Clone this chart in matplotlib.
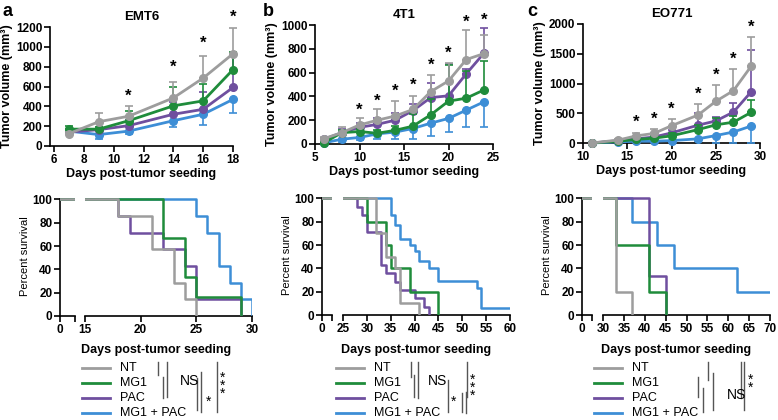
import numpy as np
import matplotlib
matplotlib.use('Agg')
import matplotlib.pyplot as plt

plt.rcParams['font.family'] = ['Liberation Sans', 'DejaVu Sans']
plt.rcParams['axes.linewidth'] = 1.2

W, H = 778, 420

groups = ['NT', 'MG1', 'PAC', 'MG1 + PAC']
colors = ['#9d9d9d', '#1f8c3b', '#6f4f9f', '#3d8ed6']

# ---- tumor growth data (mean, error) ----
emt6_days = [7, 9, 11, 14, 16, 18]
emt6_nt = [125, 245, 300, 485, 685, 930]
emt6_nt_err = [20, 85, 100, 160, 225, 260]
emt6_mg1 = [170, 170, 255, 405, 455, 770]
emt6_mg1_err = [30, 20, 100, 185, 170, 180]
emt6_pac = [140, 165, 205, 320, 370, 590]
emt6_pac_err = [20, 30, 60, 120, 175, 330]
emt6_combo = [150, 115, 150, 255, 320, 470]
emt6_combo_err = [20, 45, 25, 60, 110, 135]
emt6_stars = [11, 14, 16, 18]
emt6_star_y = [500, 790, 1040, 1300]

t41_days = [6, 8, 10, 12, 14, 16, 18, 20, 22, 24]
t41_nt = [45, 95, 160, 200, 235, 290, 440, 530, 710, 760]
t41_nt_err = [10, 45, 55, 90, 125, 110, 140, 150, 250, 160]
t41_mg1 = [10, 95, 105, 90, 115, 150, 245, 360, 385, 455]
t41_mg1_err = [5, 20, 20, 30, 40, 100, 130, 305, 230, 245]
t41_pac = [40, 95, 140, 165, 200, 280, 390, 405, 590, 765]
t41_pac_err = [10, 30, 40, 50, 60, 60, 120, 270, 40, 210]
t41_combo = [10, 40, 55, 85, 100, 130, 175, 215, 285, 355]
t41_combo_err = [5, 20, 20, 45, 55, 90, 105, 115, 145, 210]
t41_stars = [10, 12, 14, 16, 18, 20, 22, 24]
t41_star_y = [280, 360, 440, 490, 660, 760, 1020, 1040]

eo_days = [11, 14, 16, 18, 20, 23, 25, 27, 29]
eo_nt = [0, 50, 120, 160, 290, 470, 700, 880, 1290]
eo_nt_err = [0, 20, 40, 80, 110, 190, 270, 370, 490]
eo_mg1 = [0, 30, 60, 80, 120, 225, 305, 350, 515]
eo_mg1_err = [0, 10, 20, 30, 50, 80, 120, 100, 200]
eo_pac = [0, 40, 70, 100, 170, 300, 370, 520, 860]
eo_pac_err = [0, 10, 20, 30, 50, 200, 60, 150, 700]
eo_combo = [0, 20, 30, 30, 40, 70, 125, 185, 285]
eo_combo_err = [0, 10, 15, 15, 25, 40, 120, 180, 285]
eo_stars = [16, 18, 20, 23, 25, 27, 29]
eo_star_y = [350, 400, 560, 820, 1130, 1400, 1950]

# ---- survival data (event times, percent surviving) ----
emt6_surv = [
    ([0, 18, 21, 23, 24, 25], [100, 85.7, 57.1, 28.6, 14.3, 0]),
    ([0, 22, 24, 25, 29], [100, 66.7, 33.3, 16.7, 0]),
    ([0, 18, 19, 22, 24, 25, 29], [100, 85.7, 71.4, 57.1, 42.9, 14.3, 0]),
    ([0, 25, 26, 27, 28, 29, 30], [100, 85.7, 71.4, 42.9, 28.6, 14.3, 0]),
]
t41_surv = [
    ([0, 32, 34, 36, 37, 41], [100, 70, 50, 40, 10, 0]),
    ([0, 30, 34, 35, 39, 45], [100, 80, 60, 40, 20, 0]),
    ([0, 28, 29, 30, 33, 34, 36, 37, 40, 42, 43],
     [100, 92.9, 85.7, 71.4, 42.9, 35.7, 28.6, 21.4, 14.3, 7.1, 0]),
    ([0, 35, 36, 37, 39, 40, 41, 43, 45, 53, 54, 60],
     [100, 86, 77, 65, 60, 55, 46, 40, 29, 23, 5.6, 5.6]),
]
eo_surv = [
    ([0, 33, 37], [100, 20, 0]),
    ([0, 33, 41, 45], [100, 60, 20, 0]),
    ([0, 41, 45], [100, 33.3, 0]),
    ([0, 37, 43, 47, 62, 70], [100, 80, 60, 40, 20, 20]),
]

fig = plt.figure(figsize=(W / 100, H / 100), dpi=100)


def px_axes(x0, x1, ytop, ybot):
    return fig.add_axes([x0 / W, (H - ybot) / H, (x1 - x0) / W, (ybot - ytop) / H])


def style(ax, fs=8.5):
    for s in ['top', 'right']:
        ax.spines[s].set_visible(False)
    ax.tick_params(direction='out', length=4, width=1.2, labelsize=fs, pad=1.5)
    for lab in ax.get_xticklabels() + ax.get_yticklabels():
        lab.set_fontweight('bold')


def growth_panel(box, days, series, errs, xlim, xticks, yticks, title, stars, star_y):
    ax = px_axes(*box)
    for i in [3, 2, 1, 0]:
        e = np.array(errs[i])
        z = np.zeros_like(e)
        yerr = [e, z] if i == 3 else [z, e]
        ax.errorbar(days, series[i], yerr=yerr, color=colors[i], lw=2, marker='o',
                    ms=5.5, capsize=3, elinewidth=1.2, capthick=1.2, clip_on=False,
                    zorder=3 + (3 - i))
    for sx, sy in zip(stars, star_y):
        ax.text(sx, sy, '*', ha='center', va='center', fontsize=12, fontweight='bold',
                clip_on=False)
    ax.set_xlim(*xlim)
    ax.set_ylim(yticks[0], yticks[-1])
    ax.set_xticks(xticks)
    ax.set_yticks(yticks)
    ax.set_xlabel('Days post-tumor seeding', fontsize=9, fontweight='bold', labelpad=2)
    ax.set_ylabel('Tumor volume (mm³)', fontsize=9, fontweight='bold', labelpad=2)
    ax.set_title(title, fontsize=9.5, fontweight='bold', pad=5)
    style(ax)
    return ax


def survival_panel(spine, small_end, main_start, main_end, ytop, ybot, surv, xlim, xticks):
    ax0 = px_axes(spine, small_end, ytop - 3, ybot)
    ax1 = px_axes(main_start, main_end, ytop - 3, ybot)
    for ax in (ax0, ax1):
        for i, (t, s) in enumerate(surv):
            ax.step(t, s, where='post', color=colors[i], lw=1.8, zorder=6 - i)
        ax.set_ylim(0, 103)
        ax.spines['left'].set_bounds(0, 100)
    ax0.set_xlim(0, 1)
    ax0.set_xticks([0, 1])
    ax0.set_xticklabels(['0', ''])
    ax0.set_yticks([0, 20, 40, 60, 80, 100])
    ax0.set_ylabel('Percent survival', fontsize=8, labelpad=2)
    ax1.set_xlim(*xlim)
    ax1.set_xticks(xticks)
    ax1.spines['left'].set_visible(False)
    ax1.set_yticks([])
    style(ax0, 8.5)
    style(ax1, 8.5)


growth_panel((50, 233, 27, 146), emt6_days, [emt6_nt, emt6_mg1, emt6_pac, emt6_combo],
             [emt6_nt_err, emt6_mg1_err, emt6_pac_err, emt6_combo_err],
             (5.73, 18), range(6, 19, 2), range(0, 1201, 200), 'EMT6', emt6_stars, emt6_star_y)
growth_panel((315, 493, 25, 144), t41_days, [t41_nt, t41_mg1, t41_pac, t41_combo],
             [t41_nt_err, t41_mg1_err, t41_pac_err, t41_combo_err],
             (5, 25), range(5, 26, 5), range(0, 1001, 200), '4T1', t41_stars, t41_star_y)
growth_panel((583, 760, 24, 143), eo_days, [eo_nt, eo_mg1, eo_pac, eo_combo],
             [eo_nt_err, eo_mg1_err, eo_pac_err, eo_combo_err],
             (10, 30), range(10, 31, 5), range(0, 2001, 500), 'EO771', eo_stars, eo_star_y)

survival_panel(60, 75, 85, 252, 199, 316, emt6_surv, (15, 30), range(15, 31, 5))
survival_panel(322, 332, 343, 510, 198, 315, t41_surv, (25, 60), range(25, 61, 5))
survival_panel(582, 592, 603, 770, 198, 315, eo_surv, (30, 70), range(30, 71, 5))

# ---- overlay for letters, legends and significance brackets ----
ov = fig.add_axes([0, 0, 1, 1], zorder=-1)
ov.set_xlim(0, W)
ov.set_ylim(H, 0)
ov.axis('off')

for lx, letter in [(8, 'a'), (268, 'b'), (532, 'c')]:
    ov.text(lx, 11, letter, fontsize=13, fontweight='bold', ha='center', va='center')

for cx in [156, 416, 676]:
    ov.text(cx, 350, 'Days post-tumor seeding', fontsize=9, fontweight='bold',
            ha='center', va='center')

legend_x = [82, 336, 594]
row_y = [368, 383, 398, 413]
for lx in legend_x:
    for i in range(4):
        ov.plot([lx, lx + 28], [row_y[i], row_y[i]], color=colors[i], lw=2)
        ov.text(lx + 38, row_y[i], groups[i], fontsize=9, ha='left', va='center')

bracket_color = '#555555'
brackets = [
    # panel a
    (158, 362, 375), (163, 377, 398), (167, 362, 397),
    (197, 378, 410), (201, 372, 412), (217, 362, 412),
    # panel b
    (411, 362, 377), (414, 375, 397), (418, 362, 398),
    (448, 380, 412), (462, 393, 412), (466, 392, 413), (467, 362, 397),
    # panel c
    (698, 377, 397), (703, 388, 412), (708, 362, 380), (713, 373, 410),
    (741, 362, 398), (744, 362, 410),
]
for bx, y0, y1 in brackets:
    ov.plot([bx, bx], [y0, y1], color=bracket_color, lw=1)

sig_labels = [
    (180, 381, 'NS'), (209, 402, '*'), (223, 386, '*\n*\n*'),
    (428, 381, 'NS'), (454, 402, '*'), (473, 388, '*\n*\n*'),
    (727, 395, 'NS'), (751, 384, '*\n*'),
]
for sx, sy, s in sig_labels:
    if s == 'NS':
        ov.text(sx, sy, s, fontsize=10, ha='left', va='center')
    else:
        ov.text(sx, sy, s, fontsize=10, ha='center', va='center', linespacing=0.45)

fig.savefig('out.png', dpi=100)
